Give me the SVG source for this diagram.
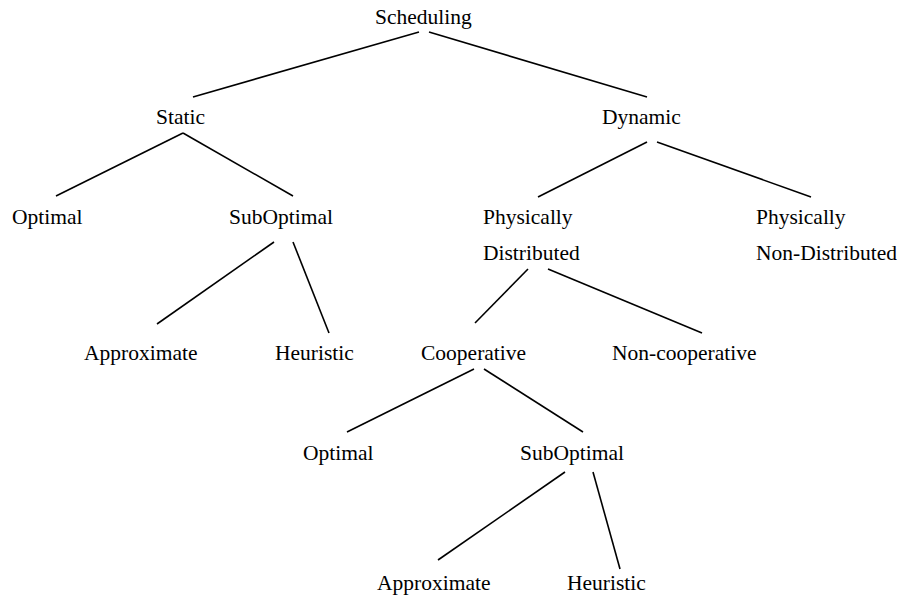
<svg xmlns="http://www.w3.org/2000/svg" width="900" height="605" viewBox="0 0 900 605">
<style>
text{font-family:"Liberation Serif","Times New Roman",serif;font-size:21.5px;fill:#000}
line{stroke:#000;stroke-width:1.6}
</style>
<rect width="900" height="605" fill="#fff"/>
<g id="connectors">
<line x1="419" y1="32" x2="193" y2="97"/>
<line x1="429" y1="32" x2="647" y2="97"/>
<line x1="183" y1="133" x2="56" y2="196"/>
<line x1="183" y1="133" x2="293" y2="196"/>
<line x1="647" y1="142" x2="538" y2="197"/>
<line x1="657" y1="142" x2="811" y2="197"/>
<line x1="274" y1="242" x2="157" y2="324"/>
<line x1="293" y1="242" x2="329" y2="333"/>
<line x1="528" y1="269" x2="475" y2="323"/>
<line x1="548" y1="269" x2="702" y2="333"/>
<line x1="474" y1="369" x2="347" y2="432"/>
<line x1="484" y1="369" x2="583" y2="432"/>
<line x1="565" y1="472" x2="438" y2="560"/>
<line x1="593" y1="472" x2="620" y2="569"/>
</g>
<g id="scheduling"><text x="375" y="24">Scheduling</text></g>
<g id="static"><text x="156" y="124">Static</text></g>
<g id="dynamic"><text x="602" y="124">Dynamic</text></g>
<g id="optimal1"><text x="12" y="224">Optimal</text></g>
<g id="suboptimal1"><text x="229" y="224">SubOptimal</text></g>
<g id="physdist"><text x="483" y="224">Physically</text><text x="483" y="260">Distributed</text></g>
<g id="physnondist"><text x="756" y="224">Physically</text><text x="756" y="260">Non-Distributed</text></g>
<g id="approx1"><text x="84" y="360">Approximate</text></g>
<g id="heur1"><text x="275" y="360">Heuristic</text></g>
<g id="coop"><text x="421" y="360">Cooperative</text></g>
<g id="noncoop"><text x="612" y="360">Non-cooperative</text></g>
<g id="optimal2"><text x="303" y="460">Optimal</text></g>
<g id="suboptimal2"><text x="520" y="460">SubOptimal</text></g>
<g id="approx2"><text x="377" y="590">Approximate</text></g>
<g id="heur2"><text x="567" y="590">Heuristic</text></g>
</svg>
